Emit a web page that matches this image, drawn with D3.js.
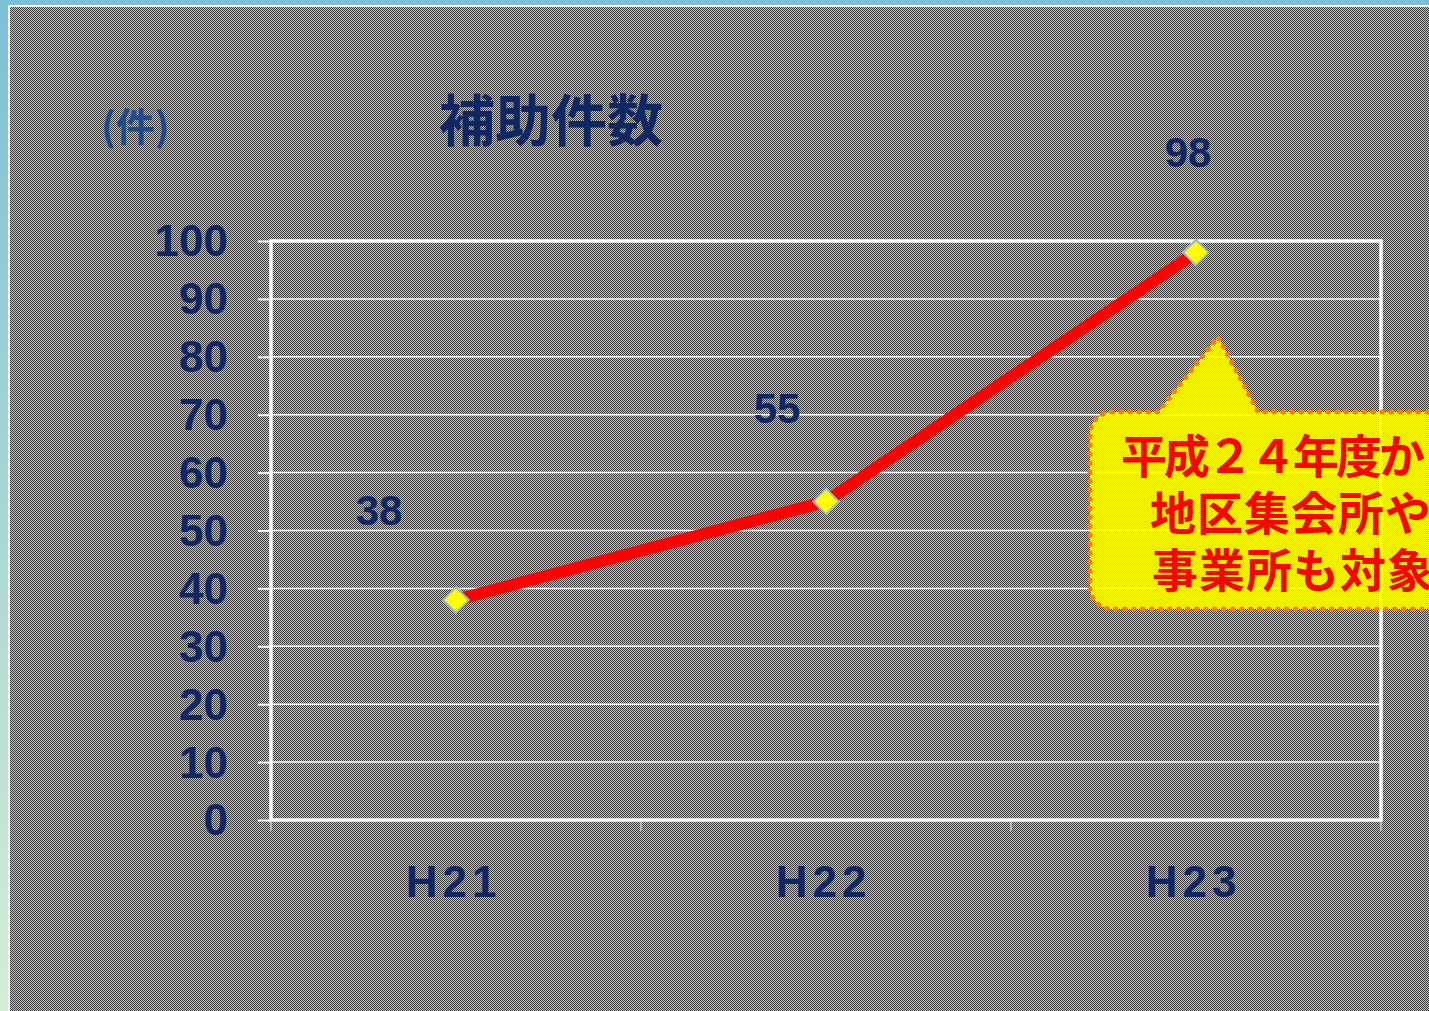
<!DOCTYPE html>
<html>
<head>
<meta charset="utf-8">
<script src="https://cdn.jsdelivr.net/npm/d3@7"></script>
<style>
  body { margin: 0; overflow: hidden; }
</style>
</head>
<body>
<svg id="chart" width="1429" height="1011"></svg>
<script>
// data
const years = ["H21", "H22", "H23"];
const counts = [38, 55, 98];
const yTicks = [0, 10, 20, 30, 40, 50, 60, 70, 80, 90, 100];
const titleText = "補助件数";
const unitText = "(件)";
const calloutLines = ["平成２４年度から", "地区集会所や", "事業所も対象に"];
// where each value label sits relative to its point (layout only)
const labelOffsets = [[-77, -90], [-49, -94], [-8, -101]];

const W = 1429, H = 1011;
const plot = { left: 271, right: 1381, top: 241, bottom: 820 };
const navy = "#0f2764";

const svg = d3.select("#chart");
const defs = svg.append("defs");

// outer gradient (blue -> pale green)
const grad = defs.append("linearGradient").attr("id", "bg")
    .attr("x1", 0).attr("y1", 0).attr("x2", 0).attr("y2", 1);
grad.append("stop").attr("offset", 0).attr("stop-color", "#7cbfd6");
grad.append("stop").attr("offset", 1).attr("stop-color", "#d3eed3");

// dithered grey panel
const dither = defs.append("pattern").attr("id", "dither")
    .attr("patternUnits", "userSpaceOnUse").attr("width", 2).attr("height", 2);
dither.append("rect").attr("width", 2).attr("height", 2).attr("fill", "#c4c4c4");
dither.append("rect").attr("width", 1).attr("height", 1).attr("fill", "#3a3a3a");
dither.append("rect").attr("x", 1).attr("y", 1).attr("width", 1).attr("height", 1).attr("fill", "#3a3a3a");

// dithered yellow for the callout (lets the grid show through)
const ydither = defs.append("pattern").attr("id", "ydither")
    .attr("patternUnits", "userSpaceOnUse").attr("width", 2).attr("height", 2);
ydither.append("rect").attr("width", 1).attr("height", 1).attr("fill", "#ffff00");
ydither.append("rect").attr("x", 1).attr("y", 1).attr("width", 1).attr("height", 1).attr("fill", "#ffff00");

svg.append("rect").attr("width", W).attr("height", H).attr("fill", "url(#bg)");
svg.append("rect").attr("x", 8).attr("y", 5).attr("width", W).attr("height", H).attr("fill", "#ffffff");
svg.append("rect").attr("x", 10).attr("y", 7).attr("width", W).attr("height", H)
    .attr("fill", "url(#dither)").attr("shape-rendering", "crispEdges");

const x = d3.scalePoint().domain(years).range([plot.left, plot.right]).padding(0.5);
const y = d3.scaleLinear().domain([0, 100]).range([plot.bottom, plot.top]);
const step = x.step();

// gridlines
svg.append("g").selectAll("line").data(yTicks).join("line")
    .attr("x1", plot.left).attr("x2", plot.right)
    .attr("y1", d => y(d)).attr("y2", d => y(d))
    .attr("stroke", "#ffffff").attr("stroke-width", 1.5);

// category boundary ticks under the axis
svg.append("g").selectAll("line").data(d3.range(years.length + 1)).join("line")
    .attr("x1", i => plot.left + i * step).attr("x2", i => plot.left + i * step)
    .attr("y1", plot.bottom + 2).attr("y2", plot.bottom + 11)
    .attr("stroke", "#b8b8b8").attr("stroke-width", 2);

// frame
svg.append("rect")
    .attr("x", plot.left).attr("y", plot.top)
    .attr("width", plot.right - plot.left).attr("height", plot.bottom - plot.top)
    .attr("fill", "none").attr("stroke", "#ffffff").attr("stroke-width", 3.5);

// y axis
const yAxis = svg.append("g").attr("transform", `translate(${plot.left},0)`)
    .call(d3.axisLeft(y).tickValues(yTicks).tickSize(13).tickPadding(30));
yAxis.select(".domain").remove();
yAxis.selectAll(".tick line").attr("stroke", "#ffffff").attr("stroke-width", 2);
yAxis.selectAll(".tick text")
    .attr("fill", navy)
    .attr("font-family", "'Liberation Sans', Arial, sans-serif")
    .attr("font-weight", "bold").attr("font-size", 44)
    .attr("dy", "0.34em");

// x axis
const xAxis = svg.append("g").attr("transform", `translate(0,${plot.bottom})`)
    .call(d3.axisBottom(x).tickSize(0).tickPadding(77));
xAxis.select(".domain").remove();
xAxis.selectAll(".tick text")
    .attr("fill", navy)
    .attr("font-family", "'Liberation Sans', Arial, sans-serif")
    .attr("font-weight", "bold").attr("font-size", 44)
    .attr("letter-spacing", 5)
    .attr("dx", -3)
    .attr("dy", 0);

// title and unit
svg.append("text").attr("x", 551).attr("y", 141)
    .attr("text-anchor", "middle")
    .attr("font-family", "'Noto Sans CJK JP', sans-serif")
    .attr("font-weight", "bold").attr("font-size", 56)
    .attr("fill", navy).text(titleText);
svg.append("text").attr("x", 101).attr("y", 141)
    .attr("font-family", "'Noto Sans CJK JP', sans-serif")
    .attr("font-weight", "bold").attr("font-size", 39)
    .attr("fill", "#1c4c8c").text(unitText);

// callout box with pointer
const cb = { left: 1090, top: 412, bottom: 609, right: 1560, r: 22 };
const tip = [1218, 337];
const callout = d3.path();
callout.moveTo(cb.left + cb.r, cb.top);
callout.lineTo(1158, cb.top);
callout.lineTo(tip[0], tip[1]);
callout.lineTo(1258, cb.top);
callout.lineTo(cb.right, cb.top);
callout.lineTo(cb.right, cb.bottom);
callout.lineTo(cb.left + cb.r, cb.bottom);
callout.arcTo(cb.left, cb.bottom, cb.left, cb.bottom - cb.r, cb.r);
callout.lineTo(cb.left, cb.top + cb.r);
callout.arcTo(cb.left, cb.top, cb.left + cb.r, cb.top, cb.r);
callout.closePath();
svg.append("path").attr("d", callout.toString())
    .attr("fill", "url(#ydither)")
    .attr("stroke", "#ff7a10").attr("stroke-width", 5)
    .attr("stroke-linecap", "round")
    .attr("stroke-dasharray", "0.5 8.5");

svg.append("g").selectAll("text").data(calloutLines).join("text")
    .attr("x", (d, i) => [1121, 1150, 1152][i])
    .attr("y", (d, i) => 473 + i * 57)
    .attr("font-family", "'Noto Sans CJK JP', sans-serif")
    .attr("font-weight", "bold").attr("font-size", 46)
    .attr("letter-spacing", (d, i) => [-3, 1, 1][i])
    .attr("fill", "#ff0000")
    .text(d => d);

// line
const pts = years.map((yr, i) => ({ yr, v: counts[i] }));
svg.append("path").datum(pts)
    .attr("d", d3.line().x(d => x(d.yr)).y(d => y(d.v)))
    .attr("fill", "none").attr("stroke", "#ff0000")
    .attr("stroke-width", 12).attr("stroke-linejoin", "round");

// markers
svg.append("g").selectAll("path").data(pts).join("path")
    .attr("d", d3.symbol(d3.symbolSquare, 330))
    .attr("transform", d => `translate(${x(d.yr)},${y(d.v)}) rotate(45)`)
    .attr("fill", "#ffff00").attr("stroke", "#9ab6c8").attr("stroke-width", 2);

// value labels
svg.append("g").selectAll("text").data(pts).join("text")
    .attr("x", (d, i) => x(d.yr) + labelOffsets[i][0])
    .attr("y", (d, i) => y(d.v) + labelOffsets[i][1] + 15)
    .attr("text-anchor", "middle")
    .attr("font-family", "'Liberation Sans', Arial, sans-serif")
    .attr("font-weight", "bold").attr("font-size", 42)
    .attr("fill", navy)
    .text(d => d.v);
</script>
</body>
</html>
